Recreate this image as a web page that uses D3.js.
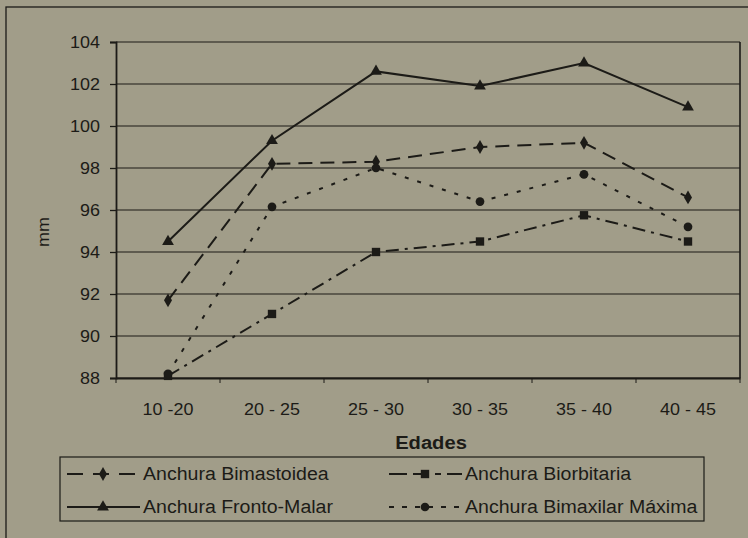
<!DOCTYPE html>
<html><head><meta charset="utf-8">
<script src="https://cdn.jsdelivr.net/npm/d3@7"></script>
<style>
body{margin:0;background:#a19d89;}
svg{display:block;font-family:"Liberation Sans",Arial,sans-serif;}
</style></head>
<body><svg id="c" width="748" height="538"></svg>
<script>
const categories = ["10 -20","20 - 25","25 - 30","30 - 35","35 - 40","40 - 45"];
const yTicks = [88,90,92,94,96,98,100,102,104];
const bimastoidea = [91.7,98.2,98.3,99.0,99.2,96.6];
const biorbitaria = [88.1,91.05,94.0,94.5,95.75,94.5];
const frontoMalar = [94.5,99.3,102.6,101.9,103.0,100.9];
const bimaxilar = [88.2,96.15,98.0,96.4,97.7,95.2];
const seriesNames = ["Anchura Bimastoidea","Anchura Biorbitaria","Anchura Fronto-Malar","Anchura Bimaxilar Máxima"];

const ink = "#1c1b17";
const FF = "Liberation Sans, Arial, sans-serif";
const svg = d3.select("#c");
const L=116,R=740,T=42,B=378;
svg.append("rect").attr("x",0).attr("y",0).attr("width",748).attr("height",538).attr("fill","#a19d89");
svg.append("rect").attr("x",6).attr("y",7).attr("width",760).attr("height",560).attr("fill","none").attr("stroke",ink).attr("stroke-width",1.3);

const x = d3.scaleBand().domain(categories).range([L,R]);
const y = d3.scaleLinear().domain([88,104]).range([B,T]);

// grid
svg.append("g").selectAll("line").data(yTicks).join("line")
 .attr("x1",L).attr("x2",R).attr("y1",d=>y(d)).attr("y2",d=>y(d))
 .attr("stroke",ink).attr("stroke-width",1.2);
svg.append("line").attr("x1",R).attr("x2",R).attr("y1",T).attr("y2",B).attr("stroke",ink).attr("stroke-width",1.6);

const ya = svg.append("g").attr("transform",`translate(${L},0)`)
 .call(d3.axisLeft(y).tickValues(yTicks).tickSize(6).tickPadding(10).tickFormat(d3.format("d")));
ya.select(".domain").attr("stroke",ink).attr("stroke-width",1.8);
ya.selectAll(".tick line").attr("stroke",ink).attr("stroke-width",1.3);
ya.selectAll("text").attr("font-size",16).attr("fill",ink).attr("font-family",FF).attr("dy","0.36em");

const xa = svg.append("g").attr("transform",`translate(0,${B})`)
 .call(d3.axisBottom(x).tickSize(0).tickPadding(26));
xa.select(".domain").attr("stroke",ink).attr("stroke-width",1.8);
xa.selectAll("text").attr("font-size",16).attr("fill",ink).attr("font-family",FF);
// band boundary ticks
svg.append("g").selectAll("line").data(categories.concat(["end"])).join("line")
 .attr("x1",(d,i)=>L+i*x.bandwidth()).attr("x2",(d,i)=>L+i*x.bandwidth())
 .attr("y1",B).attr("y2",B+5).attr("stroke",ink).attr("stroke-width",1);

svg.append("text").attr("x",431).attr("y",449).attr("text-anchor","middle")
 .attr("font-weight","bold").attr("font-size",18).attr("fill",ink).text("Edades");
svg.append("text").attr("transform","translate(49,232) rotate(-90)").attr("text-anchor","middle")
 .attr("font-size",16).attr("fill",ink).text("mm");

const cx = c=>x(c)+x.bandwidth()/2;
const styles = [
 {data:bimastoidea, dash:"14,8", marker:"diamond"},
 {data:biorbitaria, dash:"13,6,3,6", marker:"square"},
 {data:frontoMalar, dash:null, marker:"triangle"},
 {data:bimaxilar, dash:"4,9", marker:"circle"}
];
const sym = {diamond:d3.symbolDiamond, square:d3.symbolSquare, triangle:d3.symbolTriangle, circle:d3.symbolCircle};
const size = {diamond:55, square:70, triangle:60, circle:60};
const line = d3.line().x((d,i)=>cx(categories[i])).y(d=>y(d));
styles.forEach(s=>{
 svg.append("path").datum(s.data).attr("d",line).attr("fill","none")
  .attr("stroke",ink).attr("stroke-width",2).attr("stroke-dasharray",s.dash);
 svg.append("g").selectAll("path").data(s.data).join("path")
  .attr("transform",(d,i)=>`translate(${cx(categories[i])},${y(d)})`)
  .attr("d",d3.symbol(sym[s.marker],size[s.marker])).attr("fill",ink);
});

// legend
svg.append("rect").attr("x",60).attr("y",457).attr("width",644).attr("height",64)
 .attr("fill","none").attr("stroke",ink).attr("stroke-width",1.2);
const legPos = [[67,474],[389,474],[67,507],[389,507]];
const legDash = ["16,10","18,6,16,6,6,6","", "5,8"];
styles.forEach((s,i)=>{
 const [lx,ly]=legPos[i];
 svg.append("line").attr("x1",lx).attr("x2",lx+73).attr("y1",ly).attr("y2",ly)
  .attr("stroke",ink).attr("stroke-width",2).attr("stroke-dasharray",legDash[i]||null);
 svg.append("path").attr("transform",`translate(${lx+36},${ly})`)
  .attr("d",d3.symbol(sym[s.marker],size[s.marker])).attr("fill",ink);
 svg.append("text").attr("class","leg").attr("x",lx+76).attr("y",ly+6).attr("font-size",18).attr("fill",ink)
  .text(seriesNames[i]);
});

// horizontal stretch to match reference glyph widths
svg.selectAll("text").each(function(){
 const w = this.getComputedTextLength();
 const k = this.getAttribute("class")==="leg" ? 1.085 : 1.12;
 if(w>0){ d3.select(this).attr("textLength",w*k).attr("lengthAdjust","spacingAndGlyphs"); }
});
</script></body></html>
